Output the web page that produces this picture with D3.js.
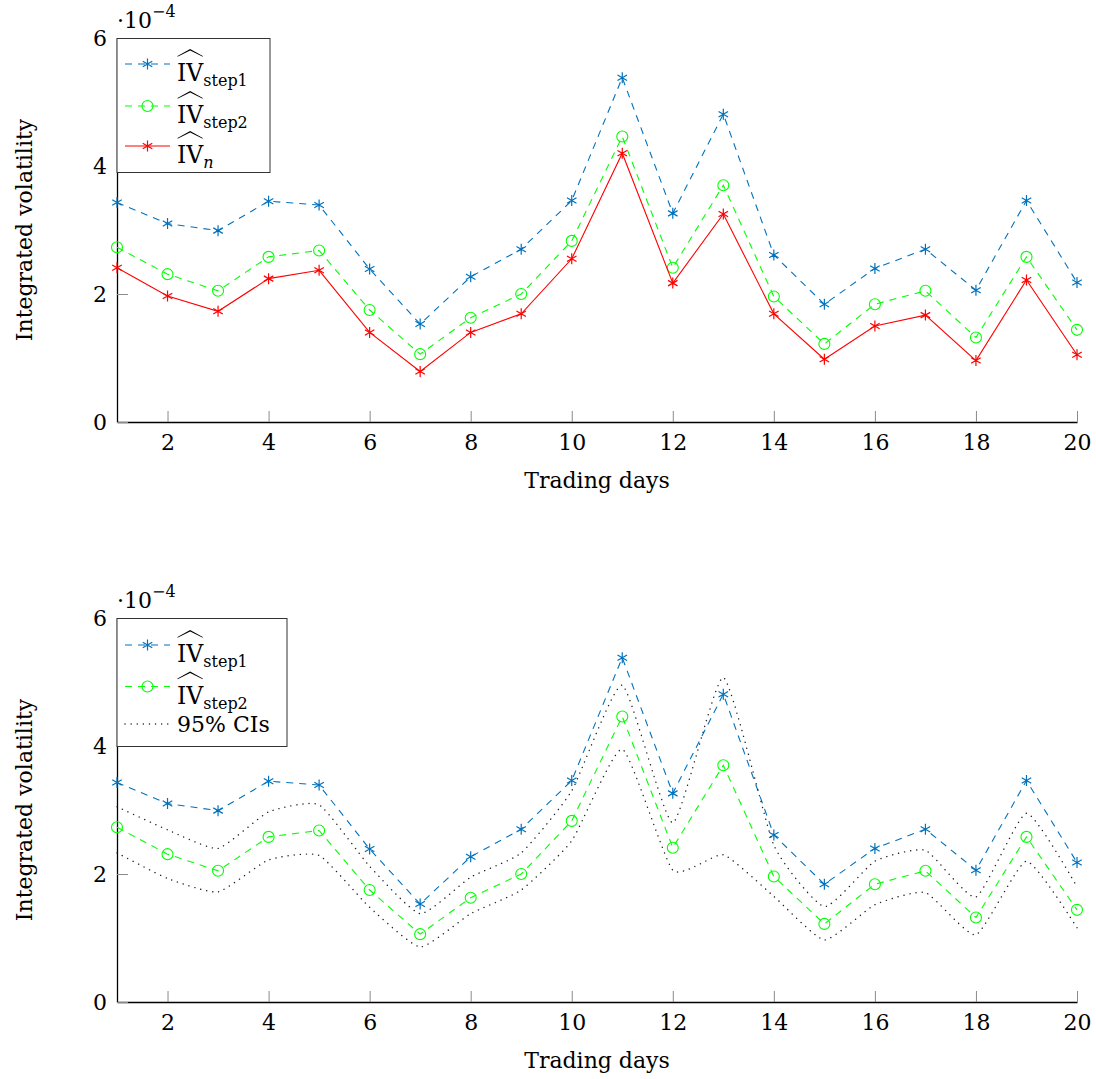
<!DOCTYPE html>
<html lang="en">

<head>
    <meta charset="UTF-8">
    <script src="https://d3js.org/d3.v7.min.js"></script>
    <title>Integrated volatility</title>
    <style>
        body { margin: 0; background: #fff; }
        svg text { font-family: "DejaVu Serif", serif; fill: #000; }
    </style>
</head>

<body>
    <div id="chart"></div>

    <script>

        // values are in units of 1e-4 (axis shows the ·10^-4 multiplier)
        const days = [1, 2, 3, 4, 5, 6, 7, 8, 9, 10, 11, 12, 13, 14, 15, 16, 17, 18, 19, 20];
        const ivStep1 = [3.43, 3.10, 2.99, 3.45, 3.39, 2.39, 1.53, 2.27, 2.70, 3.46,
            5.38, 3.26, 4.81, 2.61, 1.84, 2.40, 2.70, 2.06, 3.46, 2.18];
        const ivStep2 = [2.73, 2.31, 2.05, 2.58, 2.68, 1.75, 1.06, 1.63, 2.00, 2.83,
            4.46, 2.41, 3.70, 1.96, 1.22, 1.84, 2.05, 1.32, 2.58, 1.44];
        const ivN = [2.41, 1.97, 1.73, 2.24, 2.37, 1.40, 0.79, 1.40, 1.69, 2.55,
            4.20, 2.17, 3.25, 1.69, 0.98, 1.50, 1.67, 0.96, 2.22, 1.05];
        const ciUpper = [3.05, 2.69, 2.40, 2.97, 3.08, 2.12, 1.38, 1.95, 2.33, 3.30,
            4.95, 2.80, 5.07, 2.45, 1.49, 2.20, 2.37, 1.64, 2.95, 1.80];
        const ciLower = [2.33, 1.93, 1.72, 2.22, 2.29, 1.48, 0.86, 1.38, 1.75, 2.52,
            3.95, 2.06, 2.30, 1.65, 0.97, 1.52, 1.71, 1.05, 2.20, 1.16];
        const xTicks = [2, 4, 6, 8, 10, 12, 14, 16, 18, 20];
        const yTicks = [0, 2, 4, 6];

        const blue = "#0072bd", green = "#00ff00", red = "#ff0000";
        const fs = 22;
        const dotPattern = "0.1,6";

        const svg = d3.select("#chart").append("svg")
            .attr("width", 1096)
            .attr("height", 1079);

        const x = d3.scaleLinear().domain([1, 20]).range([117, 1077]);

        // draw a marker (asterisk or open circle)
        function marker(g, type, cx, cy, color) {
            if (type === "circle") {
                g.append("circle").attr("cx", cx).attr("cy", cy).attr("r", 5.5)
                    .attr("fill", "none").attr("stroke", color).attr("stroke-width", 1.1);
            } else {
                const r = 5.5;
                let p = "";
                [90, 30, 150].forEach(a => {
                    const dx = r * Math.cos(a * Math.PI / 180), dy = r * Math.sin(a * Math.PI / 180);
                    p += `M${cx - dx},${cy - dy}L${cx + dx},${cy + dy}`;
                });
                g.append("path").attr("d", p).attr("stroke", color)
                    .attr("stroke-width", 1.2).attr("fill", "none");
            }
        }

        // IV with a wide hat and a subscript
        function ivLabel(g, tx, ty, sub, italic) {
            const t = g.append("text").attr("x", tx).attr("y", ty).style("font-size", "23.5px");
            t.append("tspan").text("IV");
            const w = t.node().getComputedTextLength();
            t.append("tspan").attr("dy", 5).style("font-size", "16px")
                .style("font-style", italic ? "italic" : "normal").text(sub);
            const top = ty - 32, x0 = tx + 0.5, x1 = tx + w - 0.5, xm = (x0 + x1) / 2;
            g.append("path")
                .attr("d", `M${x0},${top + 7}L${xm},${top}L${x1},${top + 7}L${x1},${top + 7.8}L${xm},${top + 1.6}L${x0},${top + 7.8}Z`)
                .attr("fill", "#000");
        }

        function styleLine(sel, s) {
            sel.attr("fill", "none").attr("stroke", s.color)
                .attr("stroke-width", s.dotted ? 1.4 : 1.1)
                .attr("stroke-dasharray", s.dotted ? dotPattern : (s.dashed ? "7,6" : null))
                .attr("stroke-linecap", s.dotted ? "round" : "butt");
        }

        function panel(top, series, legend) {
            const y = d3.scaleLinear().domain([0, 6]).range([top + 384, top]);
            const g = svg.append("g");

            const xAxis = g.append("g").attr("transform", `translate(0,${top + 384})`)
                .call(d3.axisBottom(x).tickValues(xTicks).tickFormat(d3.format("d"))
                    .tickSize(-11).tickSizeOuter(0).tickPadding(12));
            const yAxis = g.append("g").attr("transform", "translate(117,0)")
                .call(d3.axisLeft(y).tickValues(yTicks).tickFormat(d3.format("d"))
                    .tickSize(-11).tickSizeOuter(0).tickPadding(10));
            [xAxis, yAxis].forEach(a => {
                a.selectAll(".tick line").attr("stroke", "#8a8a8a").attr("stroke-width", 1);
                a.selectAll(".tick text").style("font-size", fs + "px").style("font-family", "DejaVu Serif");
                a.select(".domain").attr("stroke", "#000").attr("stroke-width", 1.3);
            });
            xAxis.selectAll(".tick text").attr("dy", "0.72em");

            // exponent
            const ex = g.append("text").attr("x", 117).attr("y", top - 10).style("font-size", fs + "px");
            ex.append("tspan").text("·10");
            ex.append("tspan").attr("dy", -11).style("font-size", "16px").text("−4");

            g.append("text").attr("x", 597).attr("y", top + 450).attr("text-anchor", "middle")
                .style("font-size", fs + "px").text("Trading days");
            g.append("text").attr("transform", `translate(32,${top + 192}) rotate(-90)`)
                .attr("text-anchor", "middle").style("font-size", fs + "px").text("Integrated volatility");

            series.forEach(s => {
                const line = d3.line()
                    .x((d, i) => x(days[i]))
                    .y(d => y(d))
                    .curve(s.smooth ? d3.curveCardinal.tension(0.5) : d3.curveLinear);
                styleLine(g.append("path").datum(s.values).attr("d", line), s);
                if (s.marker) s.values.forEach((v, i) => marker(g, s.marker, x(days[i]), y(v), s.color));
            });

            // legend
            const lg = g.append("g");
            lg.append("rect").attr("x", 117).attr("y", top + 0.5)
                .attr("width", legend.w).attr("height", legend.h)
                .attr("fill", "#fff").attr("stroke", "#333").attr("stroke-width", 1);
            legend.items.forEach((it, i) => {
                const ry = top + legend.rows[i];
                const s = it.s;
                styleLine(lg.append("line").attr("x1", 125).attr("x2", 170).attr("y1", ry).attr("y2", ry), s);
                if (s.marker) marker(lg, s.marker, 147.5, ry, s.color);
                if (it.sub !== undefined) ivLabel(lg, 177, ry + 17, it.sub, it.italic);
                else lg.append("text").attr("x", 177).attr("y", ry + 8).style("font-size", fs + "px").text(it.text);
            });
        }

        const sStep1 = { values: ivStep1, color: blue, dashed: true, marker: "asterisk" };
        const sStep2 = { values: ivStep2, color: green, dashed: true, marker: "circle" };
        const sN = { values: ivN, color: red, marker: "asterisk" };
        const sUp = { values: ciUpper, color: "#222", dotted: true, smooth: true };
        const sLo = { values: ciLower, color: "#222", dotted: true, smooth: true };

        panel(38, [sStep1, sStep2, sN], {
            w: 153, h: 134, rows: [26, 68, 108],
            items: [{ s: sStep1, sub: "step1" }, { s: sStep2, sub: "step2" }, { s: sN, sub: "n", italic: true }]
        });

        panel(618, [sStep1, sStep2, sUp, sLo], {
            w: 170, h: 128, rows: [27, 68.5, 106],
            items: [{ s: sStep1, sub: "step1" }, { s: sStep2, sub: "step2" }, { s: sUp, text: "95% CIs" }]
        });

    </script>
</body>

</html>
